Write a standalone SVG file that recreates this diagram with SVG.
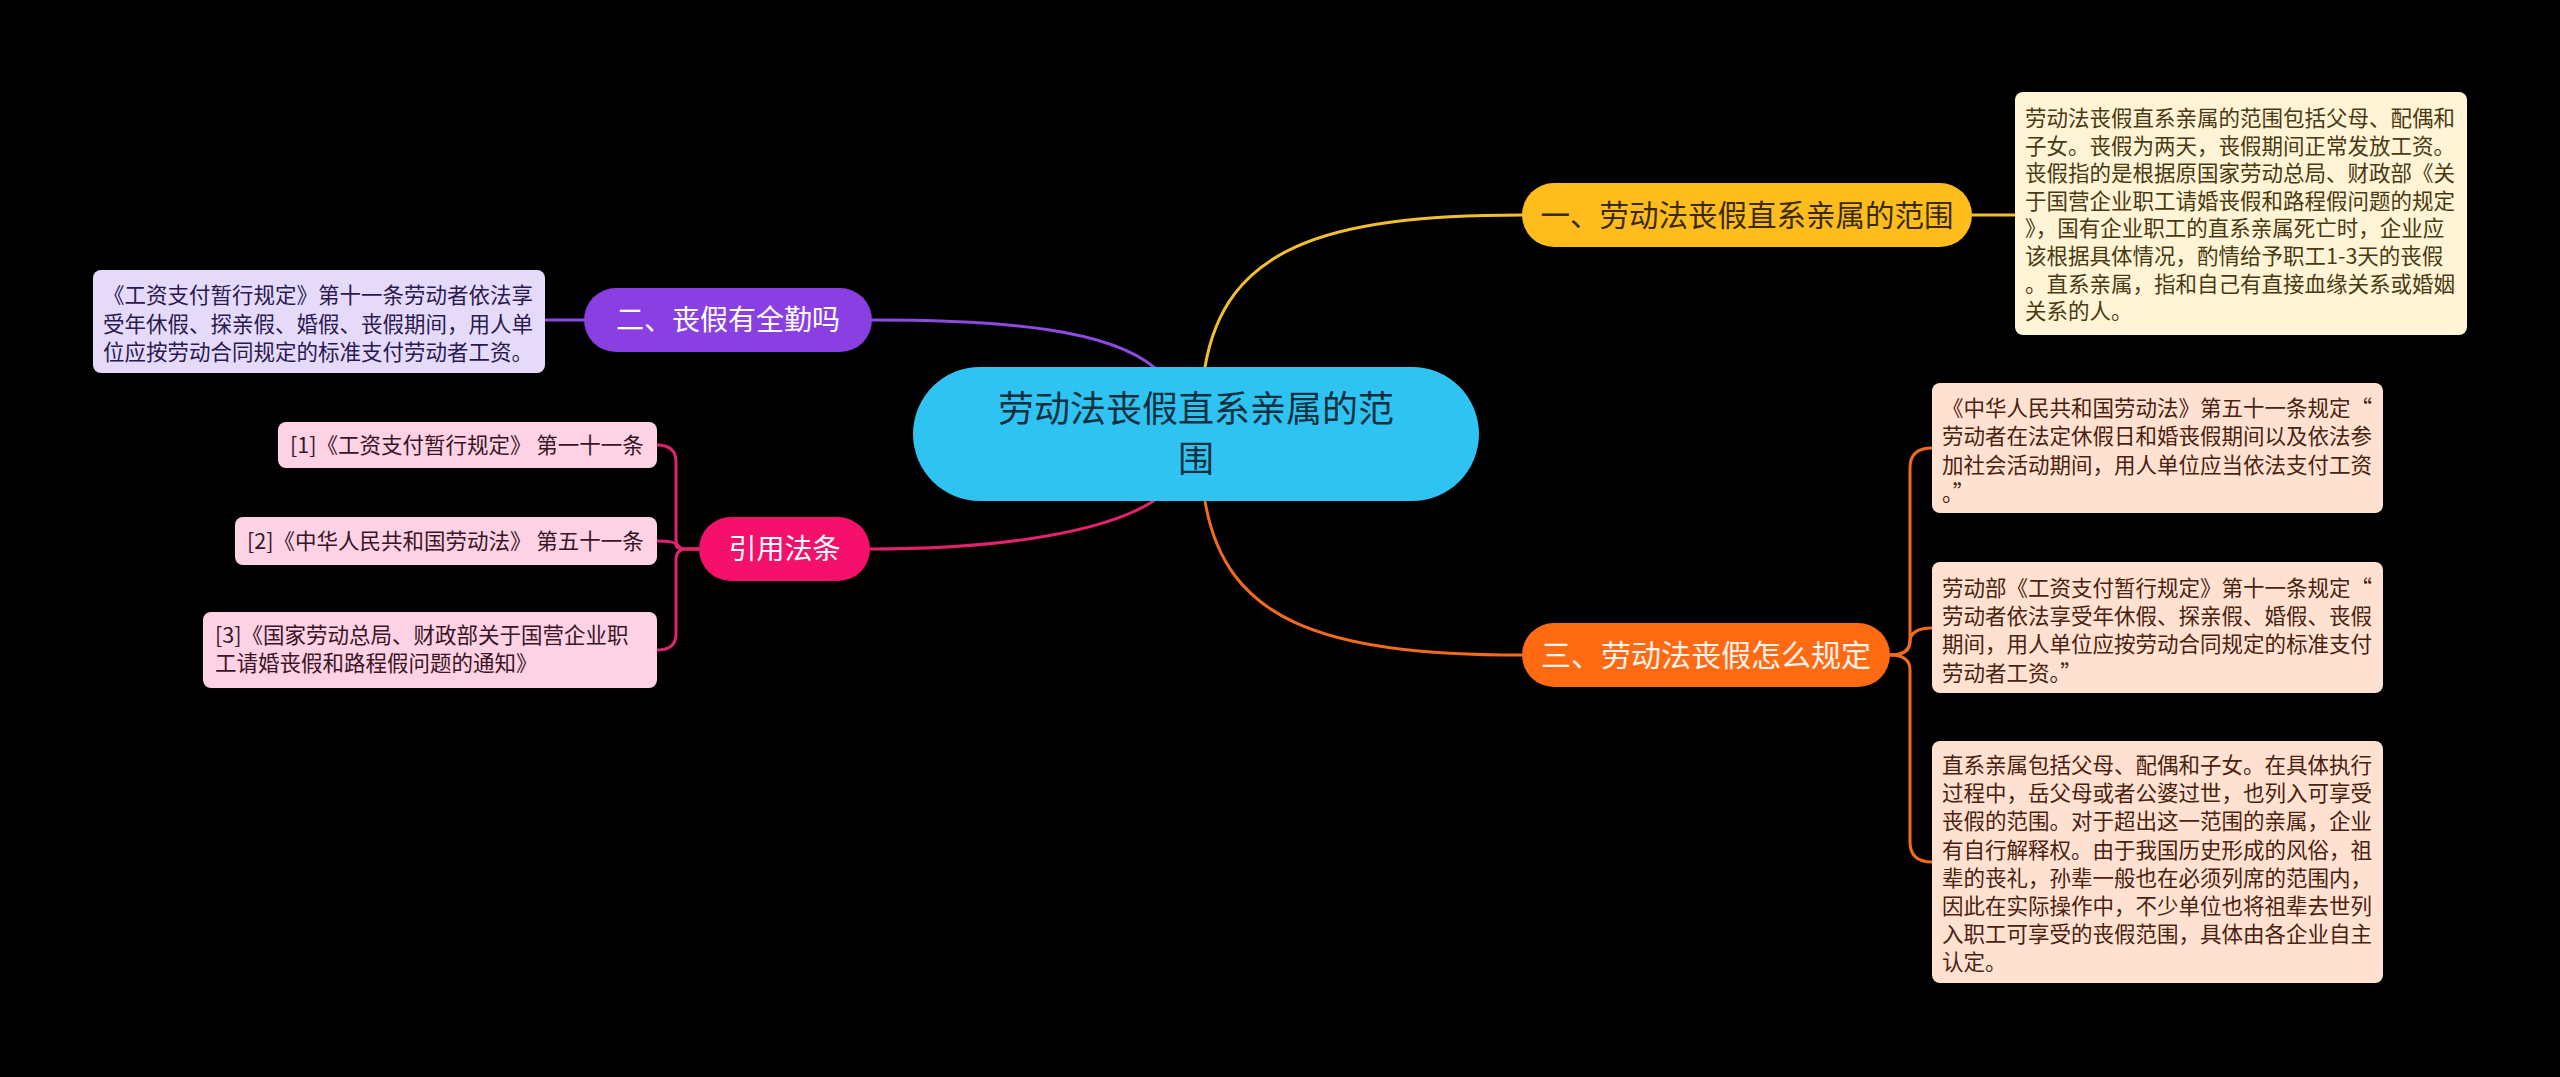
<svg xmlns="http://www.w3.org/2000/svg" width="2560" height="1077" viewBox="0 0 2560 1077">
<style>
text{font-family:"Noto Sans CJK SC","Noto Sans",sans-serif}
.c{fill:none;stroke-width:3;stroke-linecap:round}
.d{font-size:21.5px}
.mid{text-anchor:middle}
</style>
<rect width="2560" height="1077" fill="#000"/>
<g id="connectors">
<path class="c" stroke="#F4BF2E" d="M1205 367 C1225 250 1320 215 1522 215"/>
<path class="c" stroke="#F4BF2E" d="M1972 215 H2015"/>
<path class="c" stroke="#F26A1E" d="M1205 501 C1225 620 1320 655 1522 655"/>
<path class="c" stroke="#F26A1E" d="M1890 655 Q1910 655 1910 640 L1910 468 Q1910 448 1932 448"/>
<path class="c" stroke="#F26A1E" d="M1890 655 Q1910 655 1910 642 Q1910 628 1932 628"/>
<path class="c" stroke="#F26A1E" d="M1890 655 Q1910 655 1910 670 L1910 842 Q1910 862 1932 862"/>
<path class="c" stroke="#8C4BE0" d="M872 320 C1010 320 1110 330 1155 368"/>
<path class="c" stroke="#8C4BE0" d="M584 320 H545"/>
<path class="c" stroke="#E0226F" d="M870 549 C1010 549 1110 530 1155 500"/>
<path class="c" stroke="#E0226F" d="M699 549 L686 549 Q676 549 676 539 L676 462 Q676 445 657 445"/>
<path class="c" stroke="#E0226F" d="M699 549 L686 549 Q676 549 676 545 Q676 541 657 541"/>
<path class="c" stroke="#E0226F" d="M699 549 L686 549 Q676 549 676 560 L676 634 Q676 650 657 650"/>
</g>
<g id="root">
<rect x="913" y="367" width="566" height="134" rx="67" fill="#2FC3F2"/>
<text class="mid" x="1196" y="422" font-size="36" fill="#10303F">劳动法丧假直系亲属的范</text>
<text class="mid" x="1196" y="472" font-size="36" fill="#10303F">围</text>
</g>
<g id="n1">
<rect x="1522" y="183" width="450" height="64" rx="32" fill="#FDBD1C"/>
<text class="mid" x="1747" y="226" font-size="29.5" fill="#3B2A05">一、劳动法丧假直系亲属的范围</text>
</g>
<g id="n1d">
<rect x="2015" y="92" width="452" height="243" rx="8" fill="#FFF4D6"/>
<text class="d" fill="#4A3A12">
<tspan x="2025" y="126">劳动法丧假直系亲属的范围包括父母、配偶和</tspan>
<tspan x="2025" y="153.6">子女。丧假为两天，丧假期间正常发放工资。</tspan>
<tspan x="2025" y="181.2">丧假指的是根据原国家劳动总局、财政部《关</tspan>
<tspan x="2025" y="208.8">于国营企业职工请婚丧假和路程假问题的规定</tspan>
<tspan x="2025" y="236.4">》，国有企业职工的直系亲属死亡时，企业应</tspan>
<tspan x="2025" y="264">该根据具体情况，酌情给予职工1-3天的丧假</tspan>
<tspan x="2025" y="291.6">。直系亲属，指和自己有直接血缘关系或婚姻</tspan>
<tspan x="2025" y="319.2">关系的人。</tspan>
</text>
</g>
<g id="n3">
<rect x="1522" y="623" width="368" height="64" rx="32" fill="#FF6A13"/>
<text class="mid" x="1706" y="666" font-size="30" fill="#FFF4EE">三、劳动法丧假怎么规定</text>
</g>
<g id="n3a">
<rect x="1932" y="383" width="451" height="130" rx="8" fill="#FFE1D1"/>
<text class="d" fill="#4A2210">
<tspan x="1942" y="416">《中华人民共和国劳动法》第五十一条规定“</tspan>
<tspan x="1942" y="444.4">劳动者在法定休假日和婚丧假期间以及依法参</tspan>
<tspan x="1942" y="472.8">加社会活动期间，用人单位应当依法支付工资</tspan>
<tspan x="1942" y="501.2">。”</tspan>
</text>
</g>
<g id="n3b">
<rect x="1932" y="562" width="451" height="131" rx="8" fill="#FFE1D1"/>
<text class="d" fill="#4A2210">
<tspan x="1942" y="596">劳动部《工资支付暂行规定》第十一条规定“</tspan>
<tspan x="1942" y="624.2">劳动者依法享受年休假、探亲假、婚假、丧假</tspan>
<tspan x="1942" y="652.4">期间，用人单位应按劳动合同规定的标准支付</tspan>
<tspan x="1942" y="680.6">劳动者工资。”</tspan>
</text>
</g>
<g id="n3c">
<rect x="1932" y="741" width="451" height="242" rx="8" fill="#FFE1D1"/>
<text class="d" fill="#4A2210">
<tspan x="1942" y="773">直系亲属包括父母、配偶和子女。在具体执行</tspan>
<tspan x="1942" y="801.2">过程中，岳父母或者公婆过世，也列入可享受</tspan>
<tspan x="1942" y="829.4">丧假的范围。对于超出这一范围的亲属，企业</tspan>
<tspan x="1942" y="857.6">有自行解释权。由于我国历史形成的风俗，祖</tspan>
<tspan x="1942" y="885.8">辈的丧礼，孙辈一般也在必须列席的范围内，</tspan>
<tspan x="1942" y="914">因此在实际操作中，不少单位也将祖辈去世列</tspan>
<tspan x="1942" y="942.2">入职工可享受的丧假范围，具体由各企业自主</tspan>
<tspan x="1942" y="970.4">认定。</tspan>
</text>
</g>
<g id="n2">
<rect x="584" y="288" width="288" height="64" rx="32" fill="#8A3FE2"/>
<text class="mid" x="728" y="330" font-size="28" fill="#FFFFFF">二、丧假有全勤吗</text>
</g>
<g id="n2d">
<rect x="93" y="270" width="452" height="103" rx="8" fill="#E6DAFA"/>
<text class="d" fill="#2A1A50">
<tspan x="103" y="303">《工资支付暂行规定》第十一条劳动者依法享</tspan>
<tspan x="103" y="331.5">受年休假、探亲假、婚假、丧假期间，用人单</tspan>
<tspan x="103" y="360">位应按劳动合同规定的标准支付劳动者工资。</tspan>
</text>
</g>
<g id="n4">
<rect x="699" y="517" width="171" height="64" rx="32" fill="#F5106C"/>
<text class="mid" x="784.5" y="559" font-size="28" fill="#FFFFFF">引用法条</text>
</g>
<g id="n4a">
<rect x="278" y="422" width="379" height="46" rx="8" fill="#FDD2E4"/>
<text class="d" x="290" y="453" fill="#3A1525">[1]《工资支付暂行规定》 第一十一条</text>
</g>
<g id="n4b">
<rect x="235" y="517" width="422" height="48" rx="8" fill="#FDD2E4"/>
<text class="d" x="247" y="549" fill="#3A1525">[2]《中华人民共和国劳动法》 第五十一条</text>
</g>
<g id="n4c">
<rect x="203" y="612" width="454" height="76" rx="8" fill="#FDD2E4"/>
<text class="d" fill="#3A1525">
<tspan x="215" y="643">[3]《国家劳动总局、财政部关于国营企业职</tspan>
<tspan x="215" y="671">工请婚丧假和路程假问题的通知》</tspan>
</text>
</g>
</svg>
